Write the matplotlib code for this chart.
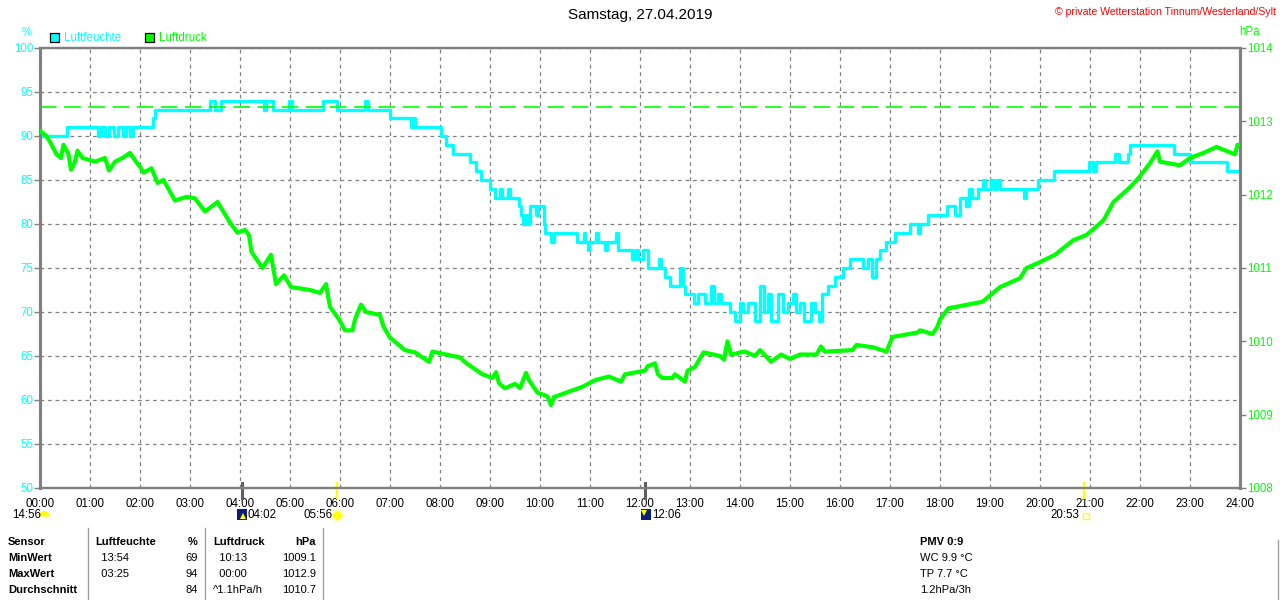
import matplotlib
matplotlib.use("Agg")
import matplotlib.pyplot as plt
from matplotlib.patches import Rectangle
from matplotlib.lines import Line2D
from matplotlib.markers import MarkerStyle
from matplotlib.transforms import blended_transform_factory

plt.rcParams['font.family'] = ['Liberation Sans', 'DejaVu Sans']

CYAN = '#00FFFF'
GREEN = '#00FF00'
GRAY = '#808080'

# Luftfeuchte (%), time in hours
hum_t = [0.0, 0.53, 1.16, 1.22, 1.3, 1.38, 1.48, 1.55, 1.66, 1.72, 1.8, 1.86,
         2.25, 2.3, 3.4, 3.5, 3.62, 4.48, 4.52, 4.66, 4.98, 5.03, 5.66, 5.93,
         6.5, 6.56, 7.0, 7.42, 7.46, 7.5, 8.03, 8.12, 8.25, 8.6, 8.72, 8.82,
         9.0, 9.1, 9.2, 9.24, 9.36, 9.4, 9.57, 9.62, 9.66, 9.72, 9.76, 9.8,
         9.92, 9.96, 10.07, 10.1, 10.22, 10.28, 10.73, 10.87, 10.9, 10.95, 10.98,
         11.12, 11.15, 11.3, 11.34, 11.52, 11.55, 11.84, 11.9, 11.96, 12.06,
         12.15, 12.38, 12.42, 12.5, 12.6, 12.8, 12.85, 12.9, 13.07, 13.15, 13.3,
         13.42, 13.47, 13.55, 13.62, 13.8, 13.9, 14.0, 14.05, 14.15, 14.3, 14.4,
         14.48, 14.55, 14.62, 14.75, 14.85, 14.95, 15.05, 15.12, 15.2, 15.28,
         15.42, 15.5, 15.58, 15.63, 15.75, 15.9, 16.05, 16.2, 16.45, 16.55,
         16.63, 16.72, 16.8, 16.92, 17.1, 17.4, 17.55, 17.6, 17.75, 18.0, 18.15,
         18.3, 18.4, 18.52, 18.58, 18.65, 18.75, 18.85, 18.9, 19.02, 19.07,
         19.15, 19.2, 19.68, 19.72, 19.95, 20.27, 20.98, 21.05, 21.12, 21.5,
         21.58, 21.75, 21.8, 22.67, 23.0, 23.73, 24.0]
hum_v = [90, 91, 90, 91, 90, 91, 90, 91, 90, 91, 90, 91,
         92, 93, 94, 93, 94, 93, 94, 93, 94, 93, 94, 93,
         94, 93, 92, 91, 92, 91, 90, 89, 88, 87, 86, 85,
         84, 83, 84, 83, 84, 83, 82, 81, 80, 81, 80, 82,
         81, 82, 80, 79, 78, 79, 78, 79, 78, 77, 78,
         79, 78, 77, 78, 79, 77, 76, 77, 76, 77,
         75, 76, 75, 74, 73, 75, 73, 72, 71, 72, 71,
         73, 71, 72, 71, 70, 69, 71, 70, 71, 69, 73,
         70, 72, 69, 72, 70, 71, 72, 70, 71, 69,
         71, 70, 69, 72, 73, 74, 75, 76, 75, 76,
         74, 76, 77, 78, 79, 80, 79, 80, 81, 81, 82,
         81, 83, 82, 84, 83, 84, 85, 84, 85, 84,
         85, 84, 83, 84, 85, 86, 87, 86, 87, 88,
         87, 88, 89, 88, 87, 86, 86]

# Luftdruck (hPa)
pres_t = [0.0, 0.13, 0.2, 0.33, 0.42, 0.47, 0.57, 0.62, 0.7, 0.75, 0.85, 1.1,
          1.3, 1.38, 1.5, 1.65, 1.8, 1.92, 2.0, 2.07, 2.23, 2.35, 2.47, 2.7,
          2.93, 3.1, 3.3, 3.55, 3.8, 3.95, 4.1, 4.18, 4.23, 4.45, 4.62, 4.72,
          4.88, 5.02, 5.4, 5.6, 5.72, 5.8, 5.98, 6.1, 6.25, 6.3, 6.42, 6.52,
          6.8, 6.87, 7.0, 7.3, 7.5, 7.78, 7.85, 8.4, 8.53, 8.85, 9.05, 9.12,
          9.18, 9.3, 9.5, 9.6, 9.72, 9.78, 9.95, 10.15, 10.22, 10.28, 10.85,
          11.1, 11.38, 11.62, 11.7, 12.1, 12.15, 12.3, 12.36, 12.45, 12.65,
          12.7, 12.9, 12.95, 13.1, 13.27, 13.6, 13.68, 13.75, 13.82, 14.1,
          14.3, 14.4, 14.62, 14.82, 15.0, 15.2, 15.53, 15.62, 15.7, 16.25,
          16.33, 16.65, 16.93, 17.05, 17.55, 17.6, 17.85, 17.95, 18.0, 18.17,
          18.85, 19.2, 19.6, 19.73, 19.97, 20.3, 20.5, 20.67, 20.93, 21.27,
          21.47, 21.8, 22.0, 22.2, 22.35, 22.4, 22.8, 22.9, 23.0, 23.27, 23.53,
          23.9, 23.95, 24.0]
pres_v = [1012.87, 1012.8, 1012.72, 1012.55, 1012.5, 1012.68, 1012.55, 1012.34,
          1012.45, 1012.6, 1012.5, 1012.45, 1012.5, 1012.33, 1012.45, 1012.5,
          1012.57, 1012.45, 1012.38, 1012.3, 1012.36, 1012.16, 1012.2, 1011.92,
          1011.97, 1011.95, 1011.77, 1011.9, 1011.62, 1011.48, 1011.52, 1011.45,
          1011.22, 1011.0, 1011.18, 1010.78, 1010.9, 1010.74, 1010.7, 1010.66,
          1010.78, 1010.47, 1010.3, 1010.15, 1010.15, 1010.3, 1010.5, 1010.4,
          1010.36, 1010.2, 1010.05, 1009.88, 1009.85, 1009.72, 1009.86, 1009.78,
          1009.7, 1009.55, 1009.5, 1009.58, 1009.43, 1009.36, 1009.42, 1009.36,
          1009.57, 1009.47, 1009.3, 1009.25, 1009.13, 1009.24, 1009.38, 1009.47,
          1009.52, 1009.45, 1009.55, 1009.6, 1009.66, 1009.7, 1009.55, 1009.5,
          1009.5, 1009.55, 1009.45, 1009.6, 1009.65, 1009.85, 1009.8, 1009.75,
          1010.0, 1009.82, 1009.86, 1009.8, 1009.88, 1009.72, 1009.82, 1009.76,
          1009.82, 1009.82, 1009.93, 1009.86, 1009.88, 1009.95, 1009.92, 1009.86,
          1010.06, 1010.12, 1010.15, 1010.1, 1010.2, 1010.3, 1010.45, 1010.54,
          1010.74, 1010.86, 1011.0, 1011.07, 1011.18, 1011.29, 1011.38, 1011.45,
          1011.65, 1011.9, 1012.1, 1012.25, 1012.43, 1012.59, 1012.45, 1012.4,
          1012.45, 1012.5, 1012.57, 1012.65, 1012.55, 1012.68, 1012.68]

ref_pressure = 1013.2
hour_labels = ['%02d:00' % h for h in range(25)]
hum_ticks = list(range(50, 101, 5))
pres_ticks = list(range(1008, 1015))

# sun / moon events (hours)
moonrise, sunrise, moonset, sunset = 4.033, 5.933, 12.1, 20.883

stats_rows = [
    ('Sensor', 'Luftfeuchte', '%', 'Luftdruck', 'hPa'),
    ('MinWert', '  13:54', '69', '  10:13', '1009.1'),
    ('MaxWert', '  03:25', '94', '  00:00', '1012.9'),
    ('Durchschnitt', '', '84', '^1.1hPa/h', '1010.7'),
]
extra_rows = ['PMV 0:9', 'WC 9.9 °C', 'TP 7.7 °C', '1.2hPa/3h']

W, H = 1280, 600


def fx(x):
    return x / W


def fy(y):
    return 1 - y / H


fig = plt.figure(figsize=(12.8, 6.0), dpi=100)
ax1 = fig.add_axes([fx(40), fy(488), fx(1200), 440 / H])
ax2 = ax1.twinx()

ax1.set_xlim(0, 24)
ax1.set_ylim(50, 100)
ax2.set_ylim(1008, 1014)

ax1.set_xticks(range(25))
ax1.set_xticklabels(hour_labels)
ax1.set_yticks(hum_ticks)
ax2.set_yticks(pres_ticks)

ax1.grid(True, color=GRAY, linestyle=(0, (3, 3)), linewidth=0.9)
ax1.set_axisbelow(True)

ax1.plot(hum_t, hum_v, color=CYAN, linewidth=2.4, drawstyle='steps-post', zorder=3)
ax2.axhline(ref_pressure, color=GREEN, linewidth=1.2, dashes=(10, 4.5), zorder=1)
ax2.plot(pres_t, pres_v, color=GREEN, linewidth=3.0, zorder=4)

for a in (ax1, ax2):
    for side in ('left', 'right', 'top', 'bottom'):
        a.spines[side].set_color(GRAY)
    a.spines['left'].set_linewidth(2.2)
    a.spines['right'].set_linewidth(2.2)
    a.spines['top'].set_linewidth(1.6)
    a.spines['bottom'].set_linewidth(1.6)

ax1.tick_params(axis='x', length=0, pad=7, labelsize=8.3, colors='black')
ax1.tick_params(axis='y', length=4, width=1, color=GRAY, labelcolor=CYAN,
                labelsize=8.3, pad=1)
ax2.tick_params(axis='y', length=4, width=1, color=GRAY, labelcolor=GREEN,
                labelsize=8.3, pad=1)

# event ticks on the time axis
bt = blended_transform_factory(ax1.transData, ax1.transAxes)
for t, c, lw in [(moonrise, '#606060', 2.2), (moonset, '#606060', 2.2),
                 (sunrise, '#FFFF00', 1.6), (sunset, '#FFFF00', 1.6)]:
    ax1.plot([t, t], [-0.022, 0.012], color=c, linewidth=lw, transform=bt,
             clip_on=False, zorder=5)

# title and header texts
fig.text(0.5, fy(15), 'Samstag, 27.04.2019', ha='center', va='center', fontsize=11)
fig.text(fx(1276), fy(12), '© private Wetterstation Tinnum/Westerland/Sylt',
         ha='right', va='center', fontsize=7.6, color='red')
fig.text(fx(27), fy(32), '%', ha='center', va='center', fontsize=8, color=CYAN)
fig.text(fx(1249), fy(32), 'hPa', ha='center', va='center', fontsize=8.3, color=GREEN)

# legend
for x0, col, label in [(50, CYAN, 'Luftfeuchte'), (145, GREEN, 'Luftdruck')]:
    fig.add_artist(Rectangle((fx(x0), fy(42)), 9 / W, 9 / H, facecolor=col,
                             edgecolor='black', linewidth=0.9,
                             transform=fig.transFigure))
    fig.text(fx(x0 + 14), fy(38), label, ha='left', va='center',
             fontsize=8.3, color=col)

# sun / moon row
ev_y = fy(515)
fig.text(fx(12), ev_y, '14:56', ha='left', va='center', fontsize=8.3)
fig.add_artist(Line2D([fx(44)], [fy(516)], marker=MarkerStyle('o', fillstyle='top'),
                      markersize=8, color='#FFFF00', markeredgewidth=0,
                      transform=fig.transFigure))
fig.add_artist(Rectangle((fx(237), fy(520)), 10 / W, 11 / H, facecolor='#0A1E78',
                         edgecolor='none', transform=fig.transFigure))
fig.add_artist(Line2D([fx(243)], [fy(516)], marker='^', markersize=5,
                      color='#FFFF00', markeredgewidth=0, transform=fig.transFigure))
fig.text(fx(248), ev_y, '04:02', ha='left', va='center', fontsize=8.3)
fig.text(fx(304), ev_y, '05:56', ha='left', va='center', fontsize=8.3)
fig.add_artist(Line2D([fx(337)], [fy(515)], marker='o', markersize=7,
                      color='#FFFF00', markeredgecolor='#FFFFA0', markeredgewidth=1.5,
                      transform=fig.transFigure))
fig.add_artist(Rectangle((fx(641), fy(520)), 10 / W, 11 / H, facecolor='#0A1E78',
                         edgecolor='none', transform=fig.transFigure))
fig.add_artist(Line2D([fx(644)], [fy(513)], marker='v', markersize=5,
                      color='#FFFF00', markeredgewidth=0, transform=fig.transFigure))
fig.text(fx(652), ev_y, '12:06', ha='left', va='center', fontsize=8.3)
fig.text(fx(1050), ev_y, '20:53', ha='left', va='center', fontsize=8.3)
fig.add_artist(Line2D([fx(1086)], [fy(516)], marker='s', markersize=4,
                      color='#FFFF00', markerfacecolor='none', markeredgewidth=1,
                      transform=fig.transFigure))

# statistics table
for xl in (88, 205, 323):
    fig.add_artist(Line2D([fx(xl), fx(xl)], [fy(528), fy(600)], color='#A0A0A0',
                          linewidth=1, transform=fig.transFigure))
fig.add_artist(Line2D([fx(1278), fx(1278)], [fy(540), fy(600)], color='#A0A0A0',
                      linewidth=1, transform=fig.transFigure))

row_y = [542, 558, 574, 590]
for i, row in enumerate(stats_rows):
    yy = fy(row_y[i])
    hdr = 'bold' if i == 0 else 'normal'
    fig.text(fx(8), yy, row[0], ha='left', va='center', fontsize=8, fontweight='bold')
    fig.text(fx(95), yy, row[1], ha='left', va='center', fontsize=8, fontweight=hdr)
    fig.text(fx(198), yy, row[2], ha='right', va='center', fontsize=8, fontweight=hdr)
    fig.text(fx(213), yy, row[3], ha='left', va='center', fontsize=8, fontweight=hdr)
    fig.text(fx(316), yy, row[4], ha='right', va='center', fontsize=8, fontweight=hdr)

for i, txt in enumerate(extra_rows):
    fig.text(fx(920), fy(row_y[i]), txt, ha='left', va='center', fontsize=8,
             fontweight='bold' if i == 0 else 'normal')

fig.savefig('out.png', dpi=100)
